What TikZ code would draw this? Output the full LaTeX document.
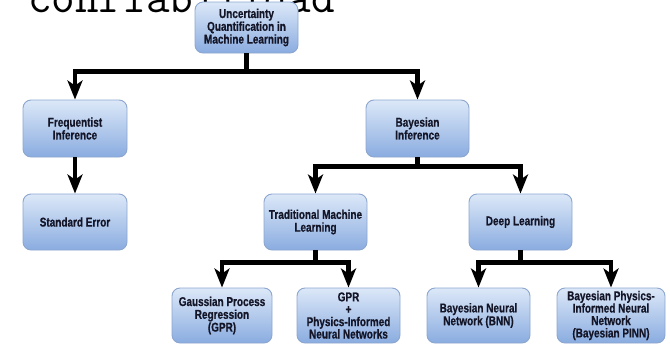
\documentclass[tikz,border=0pt]{standalone}
\usepackage{fontspec}
\newfontfamily\nodefont{Liberation Sans}[FakeStretch=0.78,FakeBold=0.6]
\usetikzlibrary{arrows.meta}
\definecolor{boxtop}{RGB}{220,232,248}
\definecolor{boxbot}{RGB}{138,172,224}
\definecolor{boxline}{RGB}{140,166,206}
\definecolor{boxtext}{RGB}{20,22,40}
\tikzset{
  ukbox/.style={rectangle, rounded corners=8pt, draw=boxline, line width=0.9pt,
    top color=boxtop, bottom color=boxbot, text=boxtext, align=center,
    inner sep=2pt, font=\nodefont\bfseries\fontsize{12.8}{12.8}\selectfont},
  conn/.style={line width=4.2pt, draw=black,
    -{Stealth[length=19pt,width=15pt,inset=5pt]}},
}
\begin{document}
\begin{tikzpicture}[x=1pt,y=-1pt]
\useasboundingbox (0,0) rectangle (670,346);
\node[anchor=base west, inner sep=0pt, font=\ttfamily\fontsize{45.8}{45.8}\selectfont] (ttl) at (28,12) {confiabilidad};
\node[ukbox, minimum width=103pt, minimum height=51pt] (root) at (246.5,27.5) {Uncertainty\\Quantification in\\Machine Learning};
\node[ukbox, minimum width=104pt, minimum height=57pt] (freq) at (75,128.5) {Frequentist\\Inference};
\node[ukbox, minimum width=103pt, minimum height=57pt] (bayes) at (417.5,128.5) {Bayesian\\Inference};
\node[ukbox, minimum width=104pt, minimum height=56pt] (stderr) at (75,222) {Standard Error};
\node[ukbox, minimum width=103pt, minimum height=56pt] (trad) at (315.5,222) {Traditional Machine\\Learning};
\node[ukbox, minimum width=103pt, minimum height=56pt] (deep) at (520.5,222) {Deep Learning};
\node[ukbox, minimum width=100pt, minimum height=55pt] (gpr) at (222,315.5) {Gaussian Process\\Regression\\(GPR)};
\node[ukbox, minimum width=103pt, minimum height=55pt, font=\nodefont\bfseries\fontsize{12.8}{12.4}\selectfont] (gprpinn) at (348.5,315.5) {GPR\\+\\Physics-Informed\\Neural Networks};
\node[ukbox, minimum width=103pt, minimum height=55pt] (bnn) at (478.5,315.5) {Bayesian Neural\\Network (BNN)};
\node[ukbox, minimum width=108pt, minimum height=55pt, font=\nodefont\bfseries\fontsize{12.8}{12.4}\selectfont] (bpinn) at (611,315.5) {Bayesian Physics-\\Informed Neural\\Network\\(Bayesian PINN)};
\draw[conn] (root.south) -- ++(0,18) -| (freq.north);
\draw[conn] (root.south) -- ++(0,18) -| (bayes.north);
\draw[conn] (freq.south) -- (stderr.north);
\draw[conn] (bayes.south) -- ++(0,9) -| (trad.north);
\draw[conn] (bayes.south) -- ++(0,9) -| (deep.north);
\draw[conn] (trad.south) -- ++(0,12) -| (gpr.north);
\draw[conn] (trad.south) -- ++(0,12) -| (gprpinn.north);
\draw[conn] (deep.south) -- ++(0,12) -| (bnn.north);
\draw[conn] (deep.south) -- ++(0,12) -| (bpinn.north);
\end{tikzpicture}
\end{document}
